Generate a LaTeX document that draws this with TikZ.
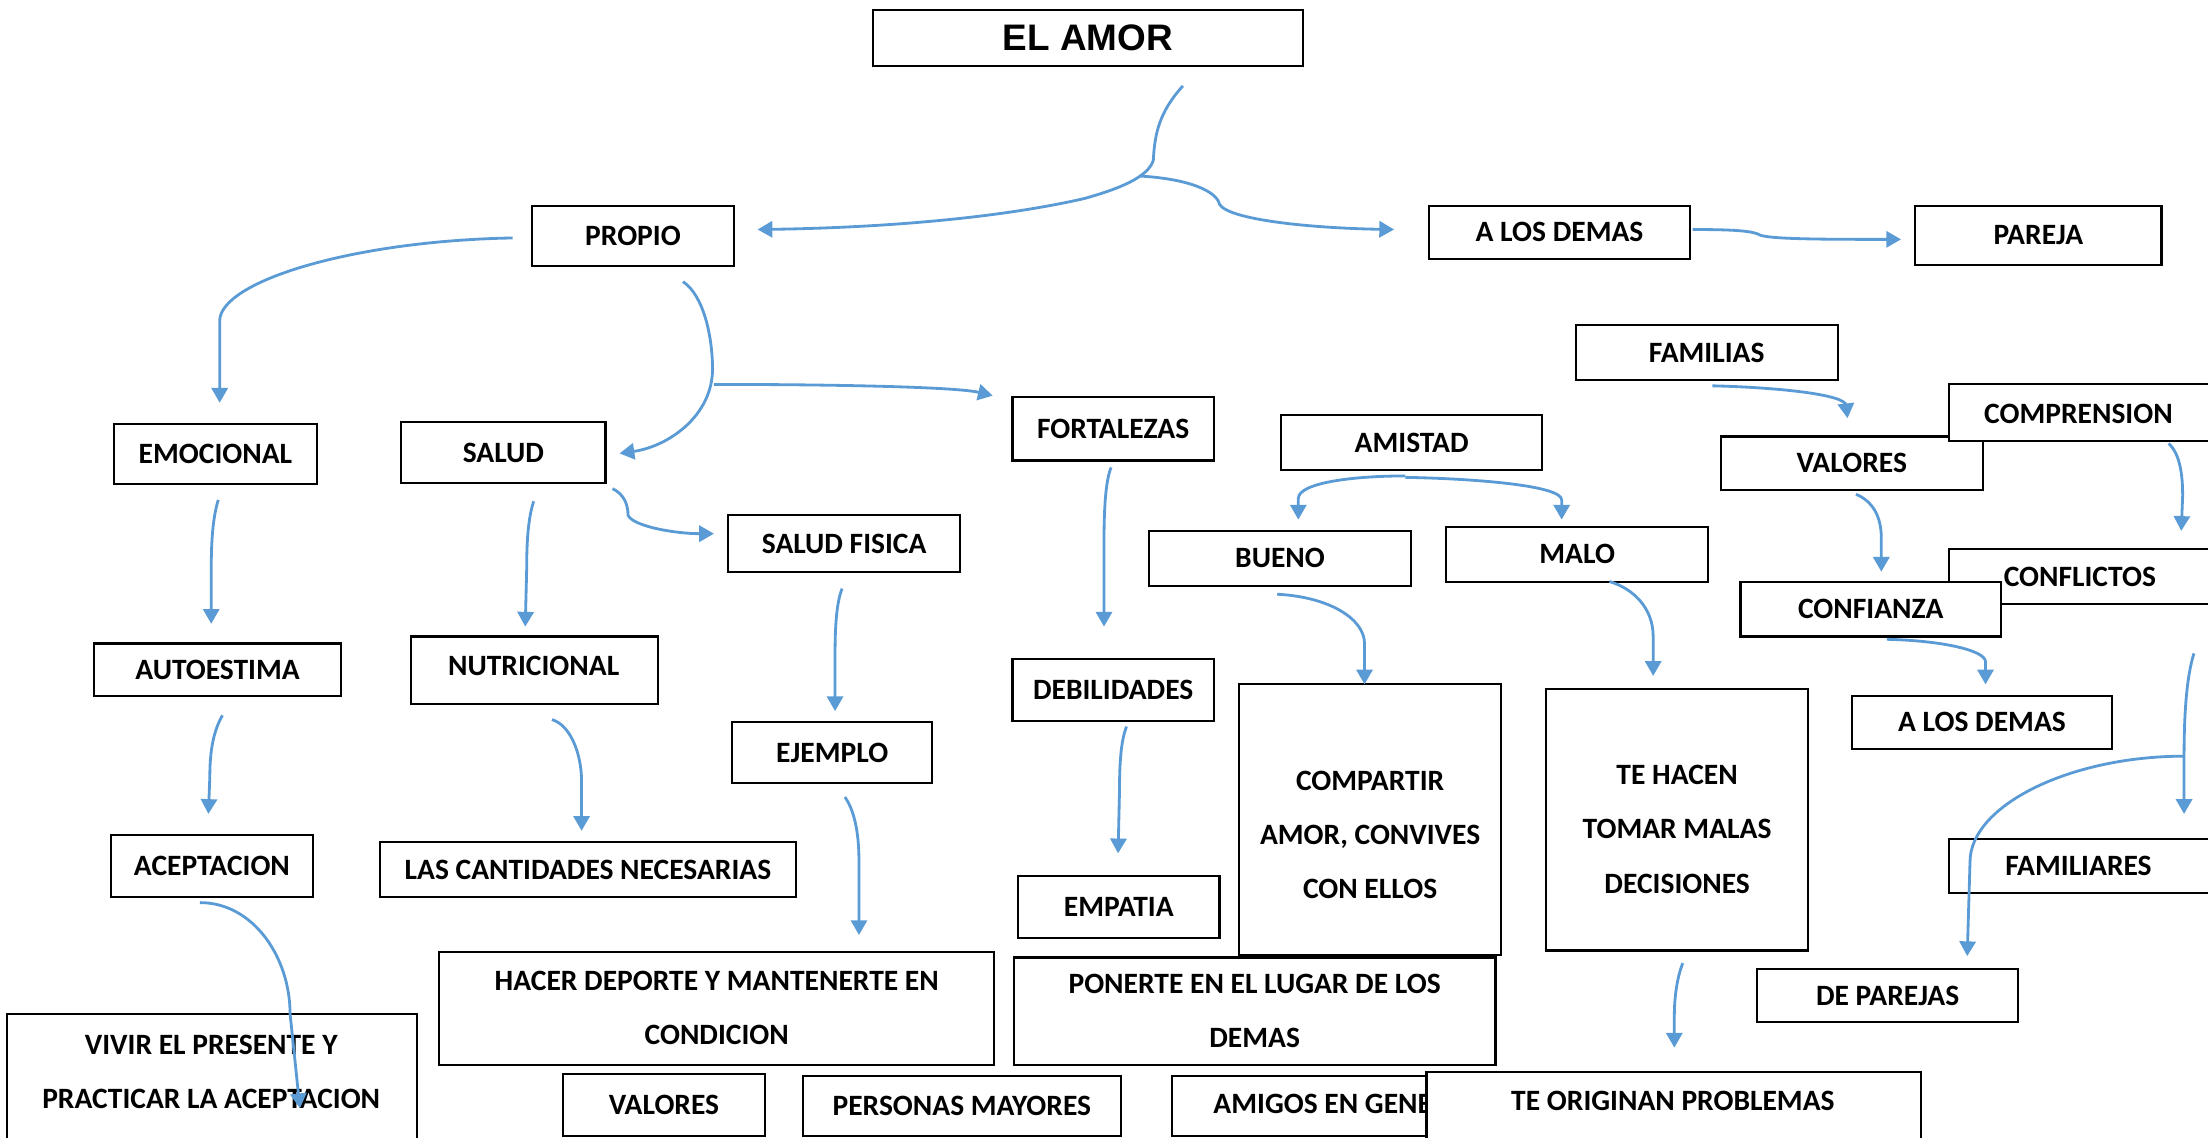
\documentclass[tikz,border=0pt]{standalone}
\usepackage{fontspec}
\setmainfont{Carlito}
\newfontfamily\arialfont{Liberation Sans}
\usetikzlibrary{arrows.meta}
\definecolor{connblue}{HTML}{5B9BD5}
\tikzset{
  box/.style={draw=black, line width=0.6pt, fill=white, inner sep=0pt, outer sep=0pt},
  lbl/.style={font=\bfseries\fontsize{8.4}{15.4}\selectfont, align=center, inner sep=0pt},
  conn/.style={draw=connblue, line width=0.8pt, -{Triangle[length=4.2pt,width=4.6pt]}},
}
\newcommand\bx[6]{\node[box, lbl, minimum width={(#4-#2)*0.0140816cm}, minimum height={(#5-#3)*0.0140816cm}] (#1) at ({(#2+#4)/2},{(#3+#5)/2}) {#6};}
\newcommand\bxt[8]{\node[box, minimum width={(#4-#2)*0.0140816cm}, minimum height={(#5-#3)*0.0140816cm}] (#1) at ({(#2+#4)/2},{(#3+#5)/2}) {};
  \node[lbl] (#1-t) at (#6,#7) {#8};}
\begin{document}
\begin{tikzpicture}[x=0.0140816cm, y=-0.0140816cm]
\useasboundingbox (0,0) rectangle (1568,808);
% boxes
\bx{amor}{620}{7}{925}{47}{\arialfont\fontsize{10.5}{12}\selectfont EL AMOR}
\bx{propio}{378}{146}{521}{189}{PROPIO}
\bx{demas1}{1015}{146}{1200}{184}{A LOS DEMAS}
\bx{pareja}{1360}{146}{1535}{188}{PAREJA}
\bx{emocional}{81}{301}{225}{344}{EMOCIONAL}
\bx{salud}{285}{300}{430}{343}{SALUD}
\bx{fortalezas}{719}{282}{862}{327}{FORTALEZAS}
\bx{amistad}{910}{295}{1095}{334}{AMISTAD}
\bx{familias}{1119}{231}{1305}{270}{FAMILIAS}
\bx{valoresr}{1222}{310}{1408}{348}{VALORES}
\bxt{comprension}{1384}{273}{1580}{313}{1476}{294}{COMPRENSION}
\bx{saludfisica}{517}{366}{682}{406}{SALUD FISICA}
\bx{bueno}{816}{377}{1002}{416}{BUENO}
\bx{malo}{1027}{374}{1213}{413}{MALO}
\bxt{conflictos}{1384}{390}{1580}{429}{1477}{410}{CONFLICTOS}
\bx{confianza}{1236}{413}{1421}{452}{CONFIANZA}
\bx{autoestima}{67}{457}{242}{494}{AUTOESTIMA}
\bxt{nutricional}{292}{452}{467}{500}{379}{473}{NUTRICIONAL}
\bx{debilidades}{719}{468}{862}{512}{DEBILIDADES}
\bx{ejemplo}{520}{513}{662}{556}{EJEMPLO}
\bx{demas2}{1315}{494}{1500}{532}{A LOS DEMAS}
\bxt{compartir}{880}{486}{1066}{678}{973}{593}{COMPARTIR\\AMOR, CONVIVES\\CON ELLOS}
\bxt{tehacen}{1098}{489}{1284}{675}{1191}{589}{TE HACEN\\TOMAR MALAS\\DECISIONES}
\bx{aceptacion}{79}{593}{222}{637}{ACEPTACION}
\bx{cantidades}{270}{598}{565}{637}{LAS CANTIDADES NECESARIAS}
\bxt{familiares}{1384}{596}{1580}{634}{1476}{615}{FAMILIARES}
\bx{empatia}{723}{622}{866}{666}{EMPATIA}
\bx{deporte}{312}{676}{706}{756}{HACER DEPORTE Y MANTENERTE EN\\CONDICION}
\bx{ponerte}{720}{680}{1062}{756}{PONERTE EN EL LUGAR DE LOS\\DEMAS}
\bx{parejas}{1248}{688}{1433}{726}{DE PAREJAS}
\bxt{vivir}{5}{720}{296}{830}{150}{761}{VIVIR EL PRESENTE Y\\PRACTICAR LA ACEPTACION}
\bx{valoresb}{400}{763}{543}{807}{VALORES}
\bx{personas}{570}{764}{796}{807}{PERSONAS MAYORES}
\bxt{amigos}{832}{764}{1080}{807}{956}{784}{AMIGOS EN GENERAL}
\bxt{teoriginan}{1013}{761}{1364}{830}{1188}{782}{TE ORIGINAN PROBLEMAS}
% connectors
\draw[conn] (840,61) .. controls (823,80) and (820,95) .. (819,114) .. controls (815,126) and (795,134) .. (770,141) .. controls (700,157) and (610,162) .. (538,163);
\draw[conn] (809,125) .. controls (845,127) and (864,136) .. (866,145) .. controls (872,156) and (930,162) .. (990,163);
\draw[conn] (1202,163) .. controls (1232,163) and (1245,164) .. (1250,167) .. controls (1258,170) and (1300,170) .. (1350,170);
\draw[conn] (364,169) .. controls (250,171) and (156,200) .. (156,228) -- (156,286);
\draw[conn] (485,200) .. controls (500,210) and (506,240) .. (506,262) .. controls (506,295) and (475,317) .. (440,322);
\draw[conn] (507,273) .. controls (600,273) and (680,275) .. (705,281);
\draw[conn] (435,347) .. controls (443,351) and (446,358) .. (446,366) .. controls (450,374) and (480,379) .. (507,379);
\draw[conn] (155,355) .. controls (151,368) and (150,385) .. (150,405) -- (150,443);
\draw[conn] (379,356) .. controls (375,368) and (374,385) .. (374,405) -- (373,445);
\draw[conn] (158,508) .. controls (151,520) and (149,535) .. (149,552) -- (148,578);
\draw[conn] (392,511) .. controls (405,515) and (413,535) .. (413,555) -- (413,590);
\draw[conn] (142,641) .. controls (180,641) and (206,680) .. (206,720) -- (213,787);
\draw[conn] (598,418) .. controls (594,428) and (593,445) .. (593,465) -- (593,505);
\draw[conn] (600,566) .. controls (607,576) and (610,592) .. (610,612) -- (610,664);
\draw[conn] (789,332) .. controls (785,342) and (784,362) .. (784,385) -- (784,445);
\draw[conn] (800,516) .. controls (796,526) and (795,542) .. (795,562) -- (794,606);
\draw[conn] (998,338) .. controls (960,338) and (922,343) .. (922,354) -- (922,369);
\draw[conn] (998,339) .. controls (1050,340) and (1109,345) .. (1109,355) -- (1109,369);
\draw[conn] (907,422) .. controls (945,424) and (969,440) .. (969,457) -- (969,486);
\draw[conn] (1143,413) .. controls (1160,418) and (1174,432) .. (1174,452) -- (1174,480);
\draw[conn] (1195,684) .. controls (1191,694) and (1189,708) .. (1189,722) -- (1189,744);
\draw[conn] (1216,274) .. controls (1260,275) and (1311,280) .. (1311,288) -- (1312,297);
\draw[conn] (1318,351) .. controls (1330,356) and (1336,367) .. (1336,382) -- (1336,406);
\draw[conn] (1540,315) .. controls (1548,322) and (1550,337) .. (1550,352) -- (1549,377);
\draw[conn] (1340,454) .. controls (1380,455) and (1410,462) .. (1410,470) -- (1410,486);
\draw[conn] (1558,464) .. controls (1553,480) and (1551,505) .. (1551,537) -- (1551,578);
\draw[conn] (1551,537) .. controls (1470,537) and (1399,572) .. (1399,612) -- (1397,679);
\end{tikzpicture}
\end{document}
